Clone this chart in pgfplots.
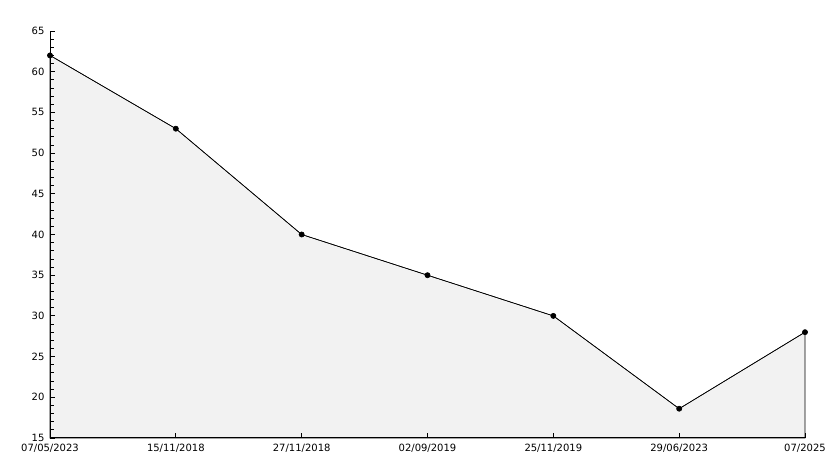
\documentclass[border=0pt]{standalone}
\usepackage{pgfplots}
\pgfplotsset{compat=1.18}
\usepackage{fontspec}
\setmainfont{DejaVu Sans}
\definecolor{areafill}{HTML}{F2F2F2}
\definecolor{gridc}{HTML}{DDDDDD}
\pgfplotsset{
  common/.style={
    at={(50pt,30pt)}, anchor=origin,
    scale only axis, width=755pt, height=407pt,
    xmin=0, xmax=6, ymin=15, ymax=65,
    clip=false,
  }
}
\begin{document}
\begin{tikzpicture}[x=1pt,y=1pt]
\path[use as bounding box] (0,0) rectangle (834,468);
% background: grid and filled area
\begin{axis}[common,
  axis lines=none,
  ytick={20,25,...,65}, xtick=\empty,
  ymajorgrids, major grid style={gridc, line width=0.8pt},
  yticklabels={}, 
]
\addplot[fill=areafill, draw=black, line width=0.6pt] coordinates {
 (0,62) (1,53) (2,40) (3,35) (4,30) (5,18.6) (6,28)
} \closedcycle;
\end{axis}
% foreground: axes, ticks, labels, line
\begin{axis}[common,
  axis x line=bottom, axis y line=left,
  axis line style={-, black, line width=1pt},
  xtick={0,1,2,3,4,5,6},
  xticklabels={07/05/2023,15/11/2018,27/11/2018,02/09/2019,25/11/2019,29/06/2023,07/2025},
  ytick={15,20,...,65},
  minor y tick num=4,
  tick align=inside,
  major tick length=5pt, minor tick length=4pt,
  tick style={black, line width=0.8pt},
  tick label style={font=\fontsize{10}{11}\selectfont, text=black},
  /pgf/number format/assume math mode=true,
  yticklabel style={xshift=-2pt},
  xticklabel style={yshift=-3pt},
]
\addplot[black, line width=0.6pt, mark=*, mark size=2.6pt] coordinates {
 (0,62) (1,53) (2,40) (3,35) (4,30) (5,18.6) (6,28)
};
\end{axis}
\end{tikzpicture}
\end{document}
